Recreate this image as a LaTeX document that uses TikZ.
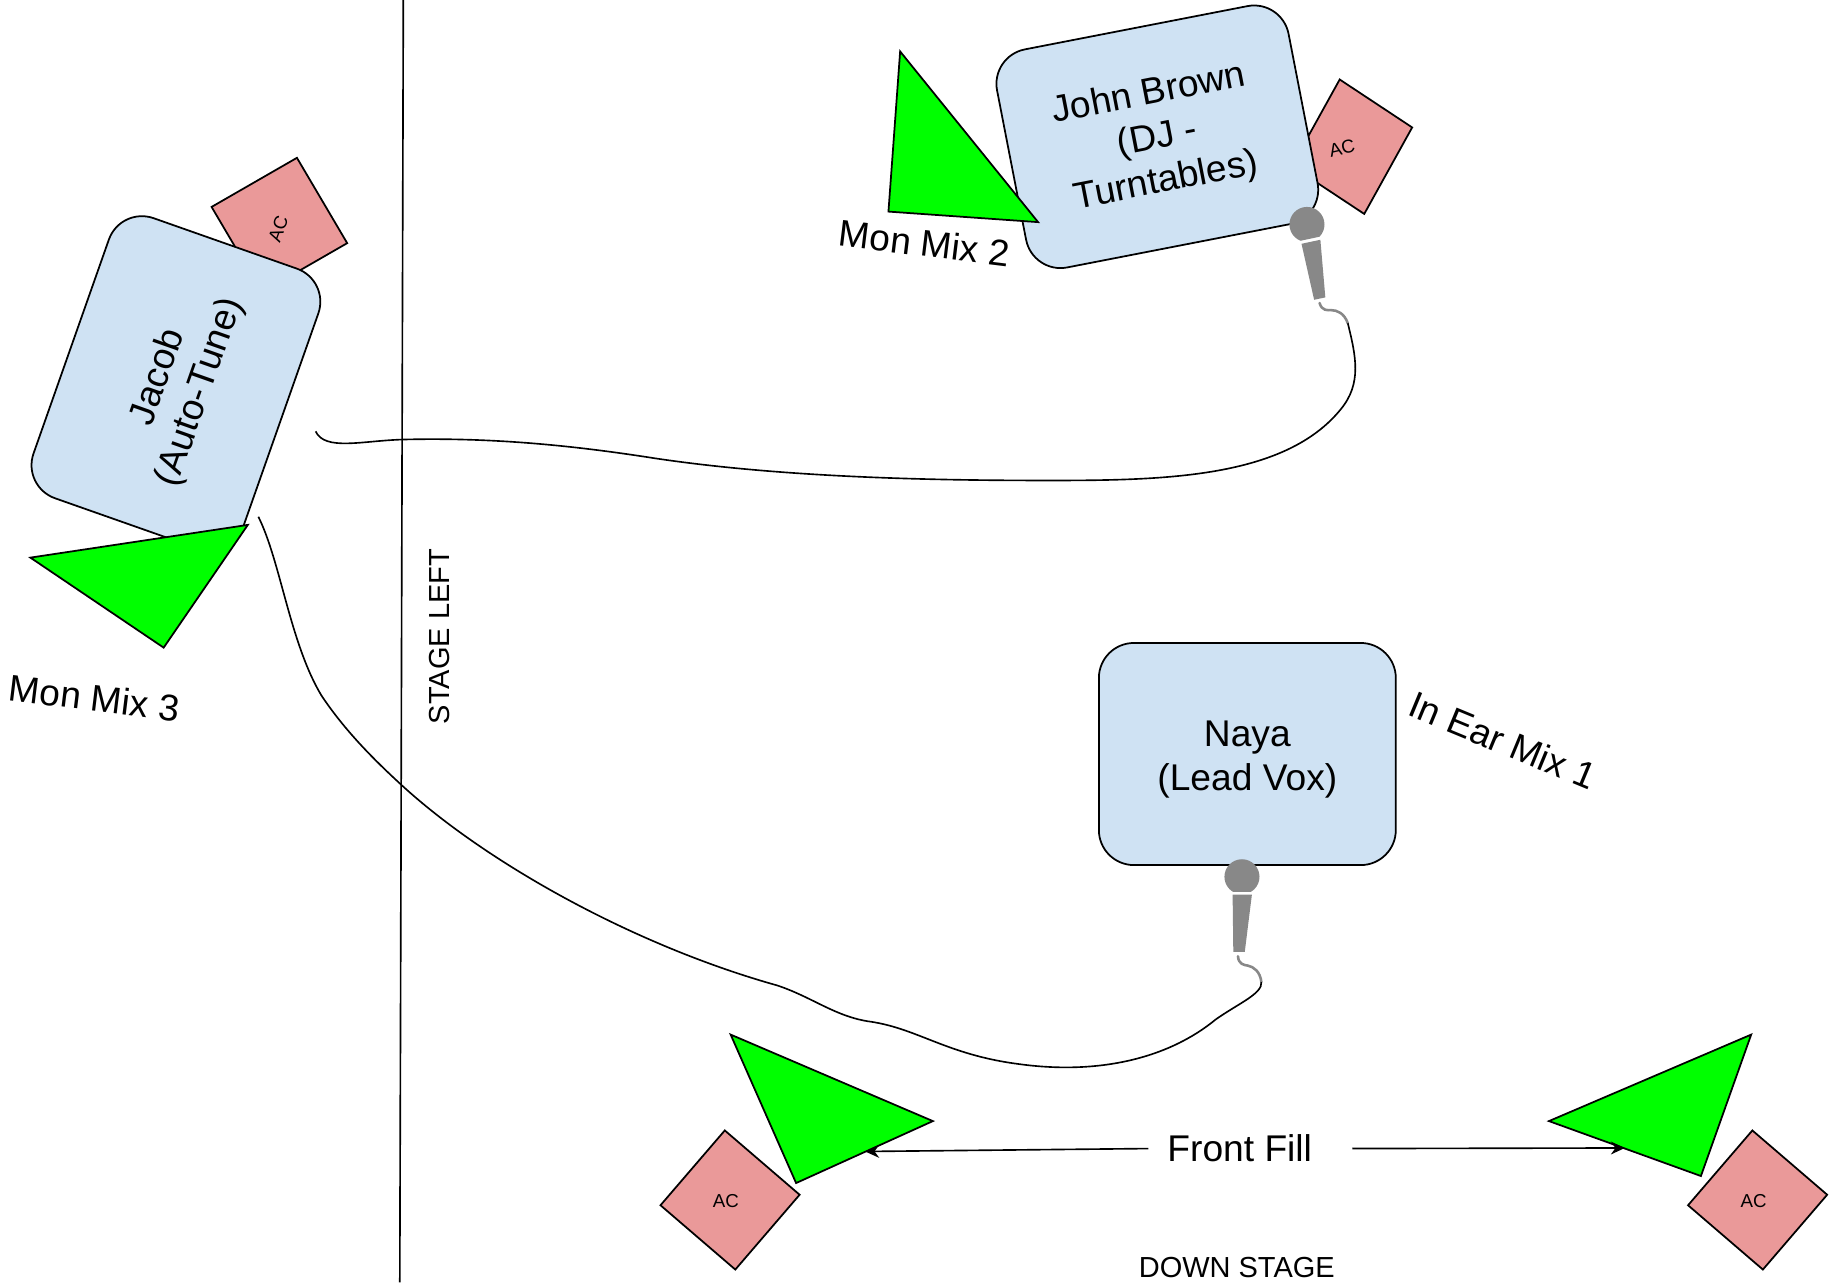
\documentclass[tikz,border=0pt]{standalone}
\usepackage{fontspec}
\setmainfont{Liberation Sans}
\usetikzlibrary{arrows.meta}
\definecolor{boxblue}{HTML}{CFE2F3}
\definecolor{acpink}{HTML}{EA9999}
\definecolor{spk}{HTML}{00FF00}
\definecolor{micgray}{HTML}{888888}
\newcommand\liftline[1]{\rule{0pt}{#1}}
\tikzset{
  outline/.style={draw=black,line width=0.75pt,line join=miter},
  person/.style={outline,fill=boxblue,rounded corners=15pt,minimum width=127pt,minimum height=95pt,inner sep=0pt,align=center,font=\fontsize{15.9}{19}\selectfont},
  speaker/.style={outline,fill=spk},
  acbox/.style={outline,fill=acpink},
  aclabel/.style={font=\fontsize{8}{10}\selectfont,inner sep=0pt},
  biglabel/.style={font=\fontsize{15.9}{19}\selectfont,inner sep=0pt},
  smalllabel/.style={font=\fontsize{12.4}{15}\selectfont,inner sep=0pt},
  cable/.style={draw=black,line width=0.7pt},
  pointer/.style={draw=black,line width=0.7pt,-{Stealth[length=6pt,width=5.5pt]}},
  micro/.pic={
    \begin{scope}
      \clip (-20,-20) rectangle (20,12.5);
      \fill[micgray] (0,0) circle [radius=15];
    \end{scope}
    \fill[micgray] (-8,15.2) -- (8.5,15.2) -- (2.4,64.3) -- (-7.4,64.3) -- cycle;
    \draw[micgray,line width=1.1pt,line cap=round] (-3.4,68) .. controls (-3,75) and (2,75.5) .. (5,76) .. controls (10,77) and (15.5,81) .. (16.6,90);
    \coordinate (-end) at (16.6,90);
  }
}
\begin{document}
\begin{tikzpicture}[x=0.5pt,y=-0.5pt]
\useasboundingbox (0,0) rectangle (1568,1098.3);

% stage line
\coordinate (stagetop) at (345,0);
\coordinate (stagebot) at (342,1097);
\draw[cable] (stagetop) -- (stagebot);

% AC boxes behind people
\draw[acbox] (1146,68) -- (1208,109) -- (1167,183) -- (1105,142) -- cycle;
\draw[acbox] (254,135) -- (297,208) -- (224,250) -- (181,177) -- cycle;
\draw[acbox] (620,967) -- (684,1022) -- (629,1086) -- (565,1031) -- cycle;
\draw[acbox] (1499,967) -- (1563,1022) -- (1508,1086) -- (1444,1031) -- cycle;
\node[aclabel,rotate=13] (acjohn) at (1148,127) {AC};
\node[aclabel,rotate=70] (acjacob) at (238,196) {AC};
\node[aclabel] (acleft) at (621,1027) {AC};
\node[aclabel] (acright) at (1500,1027) {AC};

% people
\node[person,rotate=11] (john) at (990,117) {\liftline{12.9pt}John Brown\\(DJ -\\Turntables)};
\node[person,rotate=70.6] (jacob) at (150.5,328) {\liftline{14.7pt}Jacob\\(Auto-Tune)};
\node[person] (naya) at (1067,645) {\liftline{15.5pt}Naya\\(Lead Vox)};

% speakers
\draw[speaker] (770,44) -- (760,181) -- (888,190) -- cycle;
\draw[speaker] (26,477) -- (212,449) -- (140,554) -- cycle;
\draw[speaker] (625,885) -- (798,959) -- (681,1012) -- cycle;
\draw[speaker] (1498,885) -- (1325,959) -- (1455,1006) -- cycle;

% microphones
\pic (mj) [rotate=12] at (1118,192) {micro};
\pic (mn) at (1062.4,750) {micro};

% cables
\coordinate (cabletop) at (270,369);
\coordinate (cablelow) at (221,442);
\draw[cable] (cabletop)
  .. controls (278,386) and (310,377) .. (344,376)
  .. controls (420,374) and (490,381) .. (560,392)
  .. controls (680,410) and (820,411) .. (900,411)
  .. controls (1000,411) and (1100,408) .. (1147,350)
  .. controls (1165,328) and (1160,305) .. (mj-end);
\draw[cable] (cablelow)
  .. controls (240,480) and (248,550) .. (275,595)
  .. controls (295,625) and (320,650) .. (344,672)
  .. controls (415,737) and (540,808) .. (665,843)
  .. controls (695,853) and (715,870) .. (745,874)
  .. controls (785,880) and (810,902) .. (870,910)
  .. controls (940,920) and (1000,905) .. (1040,872)
  .. controls (1060,858) and (1080,850) .. (mn-end);

% labels
\node[biglabel,rotate=-7] (mon2) at (791,208) {Mon Mix 2};
\node[biglabel,rotate=-7] (mon3) at (81,597) {Mon Mix 3};
\node[biglabel,rotate=-22.5] (inear) at (1285.5,633.5) {In Ear Mix 1};
\node[smalllabel,rotate=90] (sleft) at (376,544.5) {STAGE LEFT};
\node[smalllabel] (dstage) at (1058,1084) {DOWN STAGE};
\node[biglabel] (ff) at (1060.5,982.5) {Front Fill};

% arrows
\coordinate (ffltip) at (740,985);
\coordinate (ffrtip) at (1390,982);
\draw[pointer] ([xshift=-8pt]ff.west) -- (ffltip);
\draw[pointer] ([xshift=17pt]ff.east) -- (ffrtip);
\end{tikzpicture}
\end{document}
